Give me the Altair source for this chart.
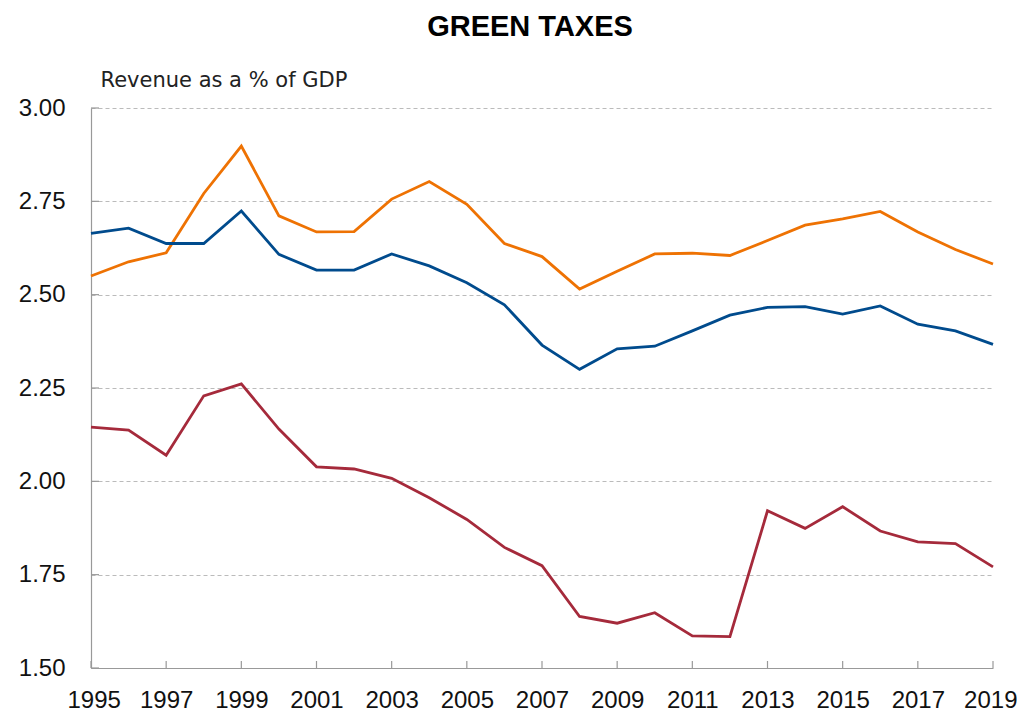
import altair as alt
import pandas as pd

years = list(range(1995, 2020))

series_orange = [2.550, 2.588, 2.612, 2.771, 2.898, 2.711, 2.668, 2.669, 2.756, 2.803,
                 2.742, 2.637, 2.602, 2.515, 2.563, 2.609, 2.611, 2.605, 2.645, 2.686,
                 2.703, 2.723, 2.668, 2.621, 2.582]
series_blue = [2.664, 2.678, 2.637, 2.637, 2.724, 2.608, 2.566, 2.566, 2.609, 2.577,
               2.532, 2.473, 2.365, 2.300, 2.355, 2.362, 2.403, 2.445, 2.466, 2.468,
               2.448, 2.470, 2.421, 2.403, 2.367]
series_red = [2.145, 2.137, 2.070, 2.229, 2.261, 2.140, 2.039, 2.033, 2.008, 1.956,
              1.898, 1.823, 1.774, 1.638, 1.620, 1.648, 1.586, 1.584, 1.921, 1.874,
              1.932, 1.867, 1.838, 1.833, 1.771]

series_names = ["Series A", "Series B", "Series C"]
series_colors = ["#EE7203", "#004B8D", "#A52A3B"]

x_ticks = list(range(1995, 2020, 2))
y_ticks = [1.50, 1.75, 2.00, 2.25, 2.50, 2.75, 3.00]

rows = []
for name, vals in zip(series_names, [series_orange, series_blue, series_red]):
    for y, v in zip(years, vals):
        rows.append({"year": y, "value": v, "series": name})
df = pd.DataFrame(rows)

W, H = 902, 560
FONT = "Liberation Sans"

x_scale = alt.Scale(domain=[1995, 2019], nice=False, zero=False)
y_scale = alt.Scale(domain=[1.5, 3.0], nice=False, zero=False)

lines = alt.Chart(df).mark_line(strokeWidth=2.8).encode(
    x=alt.X("year:Q", scale=x_scale,
            axis=alt.Axis(values=x_ticks, format="d", title=None, grid=False,
                          ticks=False, domainColor="#999999", domainWidth=1.2,
                          labelFontSize=24, labelFont=FONT, labelColor="#111111",
                          labelPadding=20, labelFlush=True, labelFlushOffset=24)),
    y=alt.Y("value:Q", scale=y_scale,
            axis=alt.Axis(values=y_ticks, format=".2f", grid=True,
                          gridDash=[4, 3], gridColor="#BBBBBB", gridWidth=1,
                          ticks=False, domainColor="#999999", domainWidth=1.2,
                          labelFontSize=24, labelFont=FONT, labelColor="#111111",
                          labelPadding=26,
                          title="Revenue as a % of GDP", titleAngle=0,
                          titleAlign="left", titleBaseline="bottom",
                          titleX=9, titleY=-18, titleFontSize=21,
                          titleFontWeight="normal", titleFont="DejaVu Sans",
                          titleColor="#222222")),
    color=alt.Color("series:N", scale=alt.Scale(domain=series_names, range=series_colors),
                    legend=None),
)

tick_df = pd.DataFrame({"year": x_ticks})
xticks = alt.Chart(tick_df).mark_rule(color="#999999", strokeWidth=1.2).encode(
    x=alt.X("year:Q", scale=x_scale),
    y=alt.value(H),
    y2=alt.value(H - 7),
)

ytick_df = pd.DataFrame({"value": y_ticks})
yticks = alt.Chart(ytick_df).mark_rule(color="#999999", strokeWidth=1.2).encode(
    y=alt.Y("value:Q", scale=y_scale),
    x=alt.value(0),
    x2=alt.value(8),
)

chart = alt.layer(lines, xticks, yticks).properties(
    width=W, height=H,
    padding={"left": 10, "top": 5, "right": 0, "bottom": 5},
    title=alt.TitleParams("GREEN TAXES", fontSize=29, font=FONT, fontWeight="bold",
                          color="#000000", anchor="middle", dx=-12, offset=27),
).configure(background="white").configure_view(stroke=None)

chart.save("out.html", embed_options={"renderer": "svg", "actions": False})
